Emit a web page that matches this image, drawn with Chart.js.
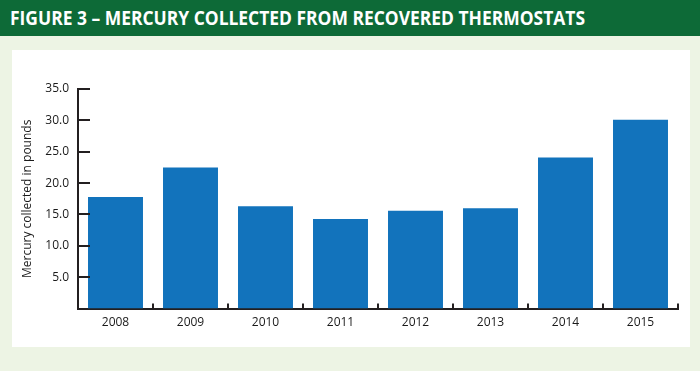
<!DOCTYPE html>
<html>
<head>
<meta charset="utf-8">
<script src="https://cdn.jsdelivr.net/npm/chart.js@4"></script>
<style>
  html, body { margin: 0; padding: 0; }
  body { width: 700px; height: 371px; background: #edf4e4; position: relative; overflow: hidden; }
  #header { position: absolute; left: 0; top: 0; width: 700px; height: 36px; background: #0d6a37; }
  #title { position: absolute; left: 10px; top: 5px; color: #ffffff; font-family: "Open Sans", sans-serif; font-weight: 700; font-size: 20px; line-height: 26px; white-space: nowrap; transform-origin: 0 50%; }
  #panel { position: absolute; left: 12px; top: 50px; width: 678px; height: 297px; background: #ffffff; }
  #wrap { position: absolute; left: 0; top: 0; width: 678px; height: 297px; }
</style>
</head>
<body>
<div id="header"><span id="title">FIGURE 3 – MERCURY COLLECTED FROM RECOVERED THERMOSTATS</span></div>
<div id="panel"><div id="wrap"><canvas id="c"></canvas></div></div>
<script>
const categories = ["2008", "2009", "2010", "2011", "2012", "2013", "2014", "2015"];
const mercuryPounds = [17.8, 22.5, 16.3, 14.3, 15.6, 16.0, 24.1, 30.1];
const yTickValues = [5, 10, 15, 20, 25, 30, 35];
const yAxisTitle = "Mercury collected in pounds";

// fit title width
const t = document.getElementById('title');
const w = t.getBoundingClientRect().width;
t.style.transform = 'scaleX(' + (575 / w) + ')';

const axisColor = '#231f20';
const tickMarks = {
  id: 'tickMarks',
  afterDatasetsDraw(chart) {
    const ctx = chart.ctx;
    const x = chart.scales.x, y = chart.scales.y;
    ctx.save();
    ctx.strokeStyle = axisColor;
    ctx.lineWidth = 2;
    ctx.beginPath();
    yTickValues.forEach(v => {
      const py = Math.round(y.getPixelForValue(v));
      ctx.moveTo(x.left, py);
      ctx.lineTo(x.left + 12, py);
    });
    for (let i = 1; i <= categories.length; i++) {
      const xx = i < categories.length
        ? Math.round((x.getPixelForValue(i - 1) + x.getPixelForValue(i)) / 2)
        : x.right;
      ctx.moveTo(xx, y.bottom);
      ctx.lineTo(xx, y.bottom - 5);
    }
    ctx.stroke();
    ctx.restore();
  }
};

new Chart(document.getElementById('c'), {
  type: 'bar',
  data: {
    labels: categories,
    datasets: [{
      data: mercuryPounds,
      backgroundColor: '#1273bc',
      borderWidth: 0,
      barPercentage: 0.733,
      categoryPercentage: 1.0
    }]
  },
  options: {
    responsive: true,
    maintainAspectRatio: false,
    animation: false,
    layout: { padding: { left: 8, right: 12, top: 39, bottom: 10 } },
    plugins: { legend: { display: false }, tooltip: { enabled: false } },
    scales: {
      x: {
        grid: { display: false, drawTicks: false },
        border: { display: true, color: axisColor, width: 2 },
        ticks: { color: '#1a1a1a', font: { family: 'Open Sans', size: 12 }, padding: 7, maxRotation: 0 }
      },
      y: {
        min: 0, max: 35,
        afterFit(scale) { scale.width = 58; },
        grid: { display: false, drawTicks: false },
        border: { display: true, color: axisColor, width: 2 },
        ticks: {
          stepSize: 5,
          color: '#1a1a1a',
          font: { family: 'Open Sans', size: 12 },
          padding: 9,
          callback: v => v === 0 ? '' : v.toFixed(1)
        },
        title: {
          display: true,
          text: yAxisTitle,
          color: '#1a1a1a',
          font: { family: 'Open Sans', size: 12 },
          padding: { top: 0, bottom: 0 }
        }
      }
    }
  },
  plugins: [tickMarks]
});
</script>
</body>
</html>
